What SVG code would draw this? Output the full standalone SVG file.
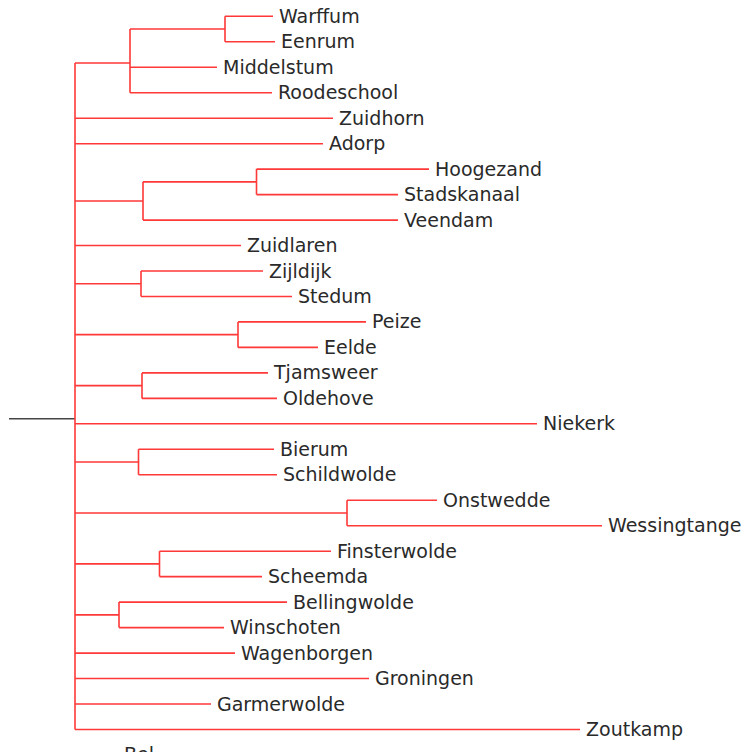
<svg xmlns="http://www.w3.org/2000/svg" width="749" height="752" viewBox="0 0 749 752">
<style>
.e{fill:none;stroke:#ff3838;stroke-width:1.6}
.s{fill:none;stroke:#444;stroke-width:1.6}
text{font-family:"DejaVu Sans",Verdana,sans-serif;font-size:19px;fill:#2a2a2a}
</style>
<rect width="749" height="752" fill="#fff"/>
<g id="connectors">
<path class="s" d="M9 418.7H75"/>
<path class="e" d="M75 63V729.5"/>
<path class="e" d="M75 63H130M130 29.05V92.7M130 29.05H225M225 16.3V41.8M225 16.3H273M225 41.8H275M130 67.2H217M130 92.7H272"/>
<path class="e" d="M75 118.2H333M75 143.7H323"/>
<path class="e" d="M75 201H143M143 181.85V220.1M143 181.85H256.5M256.5 169.1V194.6M256.5 169.1H429M256.5 194.6H398M143 220.1H398"/>
<path class="e" d="M75 245.5H241"/>
<path class="e" d="M75 283.75H141M141 271V296.5M141 271H263M141 296.5H292"/>
<path class="e" d="M75 334.65H238M238 321.9V347.4M238 321.9H366M238 347.4H318"/>
<path class="e" d="M75 385.65H142M142 372.9V398.4M142 372.9H268M142 398.4H277"/>
<path class="e" d="M75 423.8H537"/>
<path class="e" d="M75 462.05H138.5M138.5 449.3V474.8M138.5 449.3H274M138.5 474.8H277"/>
<path class="e" d="M75 512.95H347M347 500.2V525.7M347 500.2H437M347 525.7H602"/>
<path class="e" d="M75 563.9H159.5M159.5 551.2V576.6M159.5 551.2H331M159.5 576.6H262"/>
<path class="e" d="M75 614.85H119M119 602.1V627.6M119 602.1H287M119 627.6H224"/>
<path class="e" d="M75 653.1H235M75 678.5H369M75 704H211M75 729.5H580"/>
</g>
<g id="Warffum"><text x="279" y="22.8">Warffum</text></g>
<g id="Eenrum"><text x="281" y="48.3">Eenrum</text></g>
<g id="Middelstum"><text x="223" y="73.7">Middelstum</text></g>
<g id="Roodeschool"><text x="278" y="99.2">Roodeschool</text></g>
<g id="Zuidhorn"><text x="339" y="124.7">Zuidhorn</text></g>
<g id="Adorp"><text x="329" y="150.2">Adorp</text></g>
<g id="Hoogezand"><text x="435" y="175.6">Hoogezand</text></g>
<g id="Stadskanaal"><text x="404" y="201.1">Stadskanaal</text></g>
<g id="Veendam"><text x="404" y="226.6">Veendam</text></g>
<g id="Zuidlaren"><text x="247" y="252">Zuidlaren</text></g>
<g id="Zijldijk"><text x="269" y="277.5">Zijldijk</text></g>
<g id="Stedum"><text x="298" y="303">Stedum</text></g>
<g id="Peize"><text x="372" y="328.4">Peize</text></g>
<g id="Eelde"><text x="324" y="353.9">Eelde</text></g>
<g id="Tjamsweer"><text x="274" y="379.4">Tjamsweer</text></g>
<g id="Oldehove"><text x="283" y="404.9">Oldehove</text></g>
<g id="Niekerk"><text x="543" y="430.3">Niekerk</text></g>
<g id="Bierum"><text x="280" y="455.8">Bierum</text></g>
<g id="Schildwolde"><text x="283" y="481.3">Schildwolde</text></g>
<g id="Onstwedde"><text x="443" y="506.7">Onstwedde</text></g>
<g id="Wessingtange"><text x="608" y="532.2">Wessingtange</text></g>
<g id="Finsterwolde"><text x="337" y="557.7">Finsterwolde</text></g>
<g id="Scheemda"><text x="268" y="583.1">Scheemda</text></g>
<g id="Bellingwolde"><text x="293" y="608.6">Bellingwolde</text></g>
<g id="Winschoten"><text x="230" y="634.1">Winschoten</text></g>
<g id="Wagenborgen"><text x="241" y="659.6">Wagenborgen</text></g>
<g id="Groningen"><text x="375" y="685">Groningen</text></g>
<g id="Garmerwolde"><text x="217" y="710.5">Garmerwolde</text></g>
<g id="Zoutkamp"><text x="586" y="736">Zoutkamp</text></g>
<g id="Bel"><text x="124" y="760.5">Bel</text></g>
</svg>
